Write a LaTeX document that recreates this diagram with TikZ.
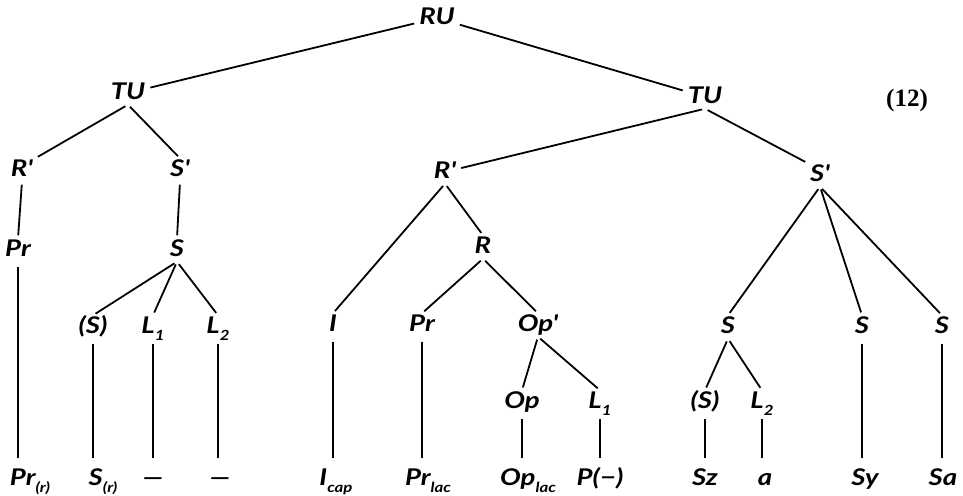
\documentclass[tikz,border=0pt]{standalone}
\usepackage{fontspec}
\newfontfamily\lblfont{Lato}[FakeStretch=1.2]
\newfontfamily\numfont{Liberation Serif}
\newcommand\sbs[1]{\raisebox{-0.3em}{\fontsize{14}{15}\selectfont #1}}
\tikzset{
  lab/.style={font=\lblfont\bfseries\itshape\fontsize{23}{27}\selectfont, inner sep=2pt, text height=16pt, text depth=3pt},
  edge/.style={line width=1.8pt, shorten <=3pt, shorten >=3pt},
  vedge/.style={line width=1.8pt, shorten <=5pt, shorten >=9pt}
}
\begin{document}
\begin{tikzpicture}[x=1pt,y=-1pt]
\useasboundingbox (0,0) rectangle (963,495);
% top
\node[lab] (RU) at (437,18) {RU};
\node[lab] (TUl) at (128,93) {TU};
\node[lab] (TUr) at (705,97) {TU};
\node[font=\numfont\bfseries\fontsize{25}{29}\selectfont] (num) at (907,100) {(12)};
% left subtree
\node[lab] (Rpl) at (22,170) {R'};
\node[lab] (Spl) at (180,170) {S'};
\node[lab] (Prl) at (18,250) {Pr};
\node[lab] (Sl) at (177,250) {S};
\node[lab] (pSl) at (93,327) {(S)};
\node[lab] (L1l) at (153,327) {L\sbs{1}};
\node[lab] (L2l) at (218,327) {L\sbs{2}};
\node[lab] (Prr) at (30,479) {Pr\sbs{(r)}};
\node[lab] (Sr) at (103,479) {S\sbs{(r)}};
\node[lab] (d1) at (153,479) {—};
\node[lab] (d2) at (220,479) {—};
% middle subtree
\node[lab] (Rpm) at (445,172) {R'};
\node[lab] (R) at (483,247) {R};
\node[lab] (Im) at (333,325) {I};
\node[lab] (Prm) at (422,325) {Pr};
\node[lab] (Opp) at (538,325) {Op'};
\node[lab] (Op) at (522,402) {Op};
\node[lab] (L1m) at (600,402) {L\sbs{1}};
\node[lab] (Icap) at (336,479) {I\sbs{cap}};
\node[lab] (Prlac) at (428,479) {Pr\sbs{lac}};
\node[lab] (Oplac) at (528,479) {Op\sbs{lac}};
\node[lab] (Pm) at (600,479) {P(−)};
% right subtree
\node[lab] (Spr) at (820,175) {S'};
\node[lab] (Sa1) at (728,327) {S};
\node[lab] (Sa2) at (862,327) {S};
\node[lab] (Sa3) at (942,327) {S};
\node[lab] (pSr) at (705,402) {(S)};
\node[lab] (L2r) at (762,402) {L\sbs{2}};
\node[lab] (Sz) at (705,479) {Sz};
\node[lab] (aa) at (765,479) {a};
\node[lab] (Sy) at (865,479) {Sy};
\node[lab] (Sa) at (943,479) {Sa};
% edges
\draw[edge] (RU) -- (TUl);
\draw[edge] (RU) -- (TUr);
\draw[edge] (TUl.south) -- (Rpl.north east);
\draw[edge] (TUl.south) -- (Spl.north);
\draw[edge] (TUr.south) -- (Rpm);
\draw[edge] (TUr.south) -- (Spr.north west);
\draw[edge] (Rpl.south) -- (Prl.north);
\draw[edge] (Spl.south) -- (Sl.north);
\draw[edge] (Sl.south) -- (pSl.north);
\draw[edge] (Sl.south) -- (L1l.north);
\draw[edge] (Sl.south) -- (L2l.north);
\draw[vedge] (Prl.south) -- (Prl.south |- Prr.north);
\draw[vedge] (pSl.south) -- (pSl.south |- Sr.north);
\draw[vedge] (L1l.south) -- (L1l.south |- d1.north);
\draw[vedge] (L2l.south) -- (L2l.south |- d2.north);
\draw[edge] (Rpm.south) -- (Im.north);
\draw[edge] (Rpm.south) -- (R.north);
\draw[edge] (R.south) -- (Prm.north);
\draw[edge] (R.south) -- (Opp.north);
\draw[edge] (Opp.south) -- (Op.north);
\draw[edge] (Opp.south) -- (L1m.north);
\draw[vedge] (Im.south) -- (Im.south |- Icap.north);
\draw[vedge] (Prm.south) -- (Prm.south |- Prlac.north);
\draw[vedge] (Op.south) -- (Op.south |- Oplac.north);
\draw[vedge] (L1m.south) -- (L1m.south |- Pm.north);
\draw[edge] (Spr.south) -- (Sa1.north);
\draw[edge] (Spr.south) -- (Sa2.north);
\draw[edge] (Spr.south) -- (Sa3.north);
\draw[edge] (Sa1.south) -- (pSr.north);
\draw[edge] (Sa1.south) -- (L2r.north);
\draw[vedge] (pSr.south) -- (pSr.south |- Sz.north);
\draw[vedge] (L2r.south) -- (L2r.south |- aa.north);
\draw[vedge] (Sa2.south) -- (Sa2.south |- Sy.north);
\draw[vedge] (Sa3.south) -- (Sa3.south |- Sa.north);
\end{tikzpicture}
\end{document}
